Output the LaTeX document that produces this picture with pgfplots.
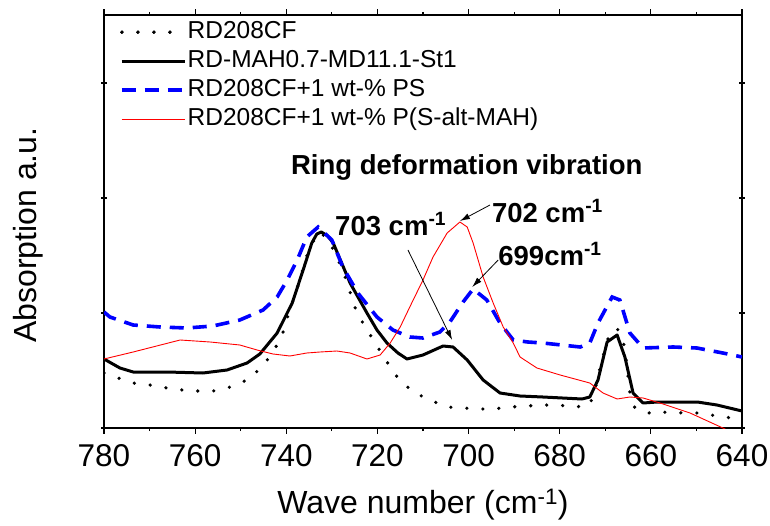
\documentclass[border=0pt]{standalone}
\usepackage{fontspec}
\setmainfont{Liberation Sans}
\usepackage{pgfplots}
\pgfplotsset{compat=1.18}
\usetikzlibrary{arrows.meta}

\newcommand{\annfont}{\fontsize{27.5}{30}\selectfont\bfseries}

\begin{document}
\begin{tikzpicture}
\begin{axis}[
  scale only axis,
  width=638pt, height=413pt,
  x dir=reverse,
  xmin=640, xmax=780,
  ymin=0, ymax=413,
  xtick={640,660,...,780},
  minor x tick num=1,
  ytick={0,115,230,345},
  yticklabels={},
  xtick align=outside,
  ytick align=center,
  major tick length=5.5pt,
  minor tick length=3pt,
  axis line style={line width=1.2pt},
  every tick/.style={line width=1.1pt, black},
  /pgf/number format/assume math mode=true,
  /pgf/number format/1000 sep={},
  xticklabel style={font=\fontsize{31.5}{31.5}\selectfont, inner sep=0pt, yshift=-11pt},
  xlabel={Wave number (cm\textsuperscript{-1})},
  xlabel style={font=\fontsize{32}{34}\selectfont, at={(0.5,-0.186)}, anchor=center},
  ylabel={Absorption a.u.},
  ylabel style={font=\fontsize{32}{34}\selectfont, at={(-0.119,0.467)}, anchor=center, rotate=0},
  legend style={at={(0.025,0.988)}, anchor=north west, draw=none, fill=none,
                inner sep=0pt, font=\fontsize{24.5}{26}\selectfont,
                nodes={text height=17pt, text depth=5pt, inner sep=1pt},
                row sep=5pt},
  legend cell align=left,
  legend image code/.code={%
    \draw[#1] (0pt,0pt) -- (55pt,0pt);
    \path (0pt,0pt) -- (63pt,0pt);},
]

% RD208CF (dotted)
\addplot[black, line width=3.6pt, line cap=round, dash pattern=on 0pt off 16pt]
  coordinates {
  (780,55) (777.6,51) (773.6,45) (769.9,43) (766.2,40) (762.9,38) (759.4,37)
  (756.1,37) (752.3,41) (748.6,48) (745.3,61) (742.9,76) (740.9,93) (739.8,110)
  (738.5,128) (737.4,143) (735.5,172) (733.5,192) (732.5,196) (730.5,186)
  (727.6,158) (724.5,115) (720.5,85) (717.9,66) (715.5,50) (712.2,36) (708.5,28)
  (704.7,21) (701.2,20) (698.1,19) (694.6,19) (690.9,21) (687.2,22) (683.7,23)
  (680.4,23) (676.6,21) (673.4,23) (672.3,38) (669.6,88) (667.4,100) (665.7,81)
  (664.6,35) (663.5,20) (659.7,14) (656.5,16) (652.9,15) (649.2,15) (645.5,12)
  (642.2,10) (640,9)};
\addlegendentry{RD208CF}

% RD-MAH0.7-MD11.1-St1 (solid)
\addplot[black, line width=3pt, line join=round]
  coordinates {
  (780,69) (776.5,60) (773.6,56) (766.2,56) (758.3,55) (753.0,58) (748.6,65)
  (745.8,74) (742.0,95) (738.7,125) (736.3,158) (734.4,185) (733.3,194) (732.3,196)
  (730.9,192) (729.7,185) (726.0,145) (722.3,115) (720.1,98) (717.9,85) (715.5,75)
  (713.5,69) (710.0,73)
  (705.6,82) (703.4,81) (700.3,68) (696.8,48) (693.1,35) (688.7,32) (683.7,31)
  (675.1,29) (673.4,31) (671.6,48) (669.6,86) (667.4,93) (665.7,71) (663.9,35)
  (661.7,25) (658.6,26) (649.8,26) (645.5,23) (640,17)};
\addlegendentry{RD-MAH0.7-MD11.1-St1}

% RD208CF+1 wt-% PS (dashed blue)
\addplot[blue, line width=3.6pt, dash pattern=on 14pt off 9pt]
  coordinates {
  (780,116) (778.7,111) (773.6,103) (767.7,101) (761.8,100) (756.1,102)
  (750.2,108) (745.1,118) (742.0,131) (739.8,148) (737.6,168) (735.5,191)
  (733.0,201) (730.0,188) (727.6,161) (724.3,135) (720.1,111) (716.6,98)
  (712.9,91) (710.0,90) (706.3,96) (704.1,106) (701.2,126) (699.0,139)
  (696.0,128) (693.1,105) (690.2,88) (687.0,86) (683.7,85) (675.5,81)
  (673.4,85) (671.6,105) (668.5,131) (666.8,128) (664.6,95) (661.7,80)
  (655.1,81) (649.9,80) (644.2,75) (640,71)};
\addlegendentry{RD208CF+1 wt-\% PS}

% RD208CF+1 wt-% P(S-alt-MAH) (thin red)
\addplot[red, line width=0.9pt]
  coordinates {
  (780,69) (773.6,76) (763.3,88) (756.7,86) (750.2,83) (746.4,78) (742.9,74)
  (739.2,72) (735.5,75) (732.6,76) (728.9,77) (726.0,75) (722.3,69) (719.4,73)
  (717.2,85) (715.0,101) (712.9,121) (710.0,148) (707.8,171) (704.7,195)
  (701.9,206) (700.3,201) (699.0,185) (696.8,151) (694.6,125) (692.4,101)
  (690.2,85) (688.7,71) (685.0,60) (679.9,53) (673.4,45) (670.5,35) (667.4,29)
  (664.6,31) (661.7,30) (658.0,25) (651.4,15) (644.2,0) (641,-7)};
\addlegendentry{RD208CF+1 wt-\% P(S-alt-MAH)}

% annotations
\node[anchor=base west, inner sep=0pt, font=\annfont]
  at (axis cs:739.0,253) {Ring deformation vibration};
\node[anchor=base west, inner sep=0pt, font=\annfont]
  at (axis cs:729.3,193) {703 cm\textsuperscript{-1}};
\node[anchor=base west, inner sep=0pt, font=\annfont]
  at (axis cs:694.9,206) {702 cm\textsuperscript{-1}};
\node[anchor=base west, inner sep=0pt, font=\annfont]
  at (axis cs:693.5,163) {699cm\textsuperscript{-1}};

\draw[line width=0.8pt, -{Latex[length=10pt,width=6pt]}]
  (axis cs:713.3,178) -- (axis cs:703.6,88);
\draw[line width=0.8pt, -{Latex[length=10pt,width=6pt]}]
  (axis cs:695.3,223) -- (axis cs:701.9,207);
\draw[line width=0.8pt, -{Latex[length=10pt,width=6pt]}]
  (axis cs:693.5,168) -- (axis cs:699.2,141);

\end{axis}
\path (-104pt,-97pt) rectangle (666pt,428pt);
\end{tikzpicture}
\end{document}
